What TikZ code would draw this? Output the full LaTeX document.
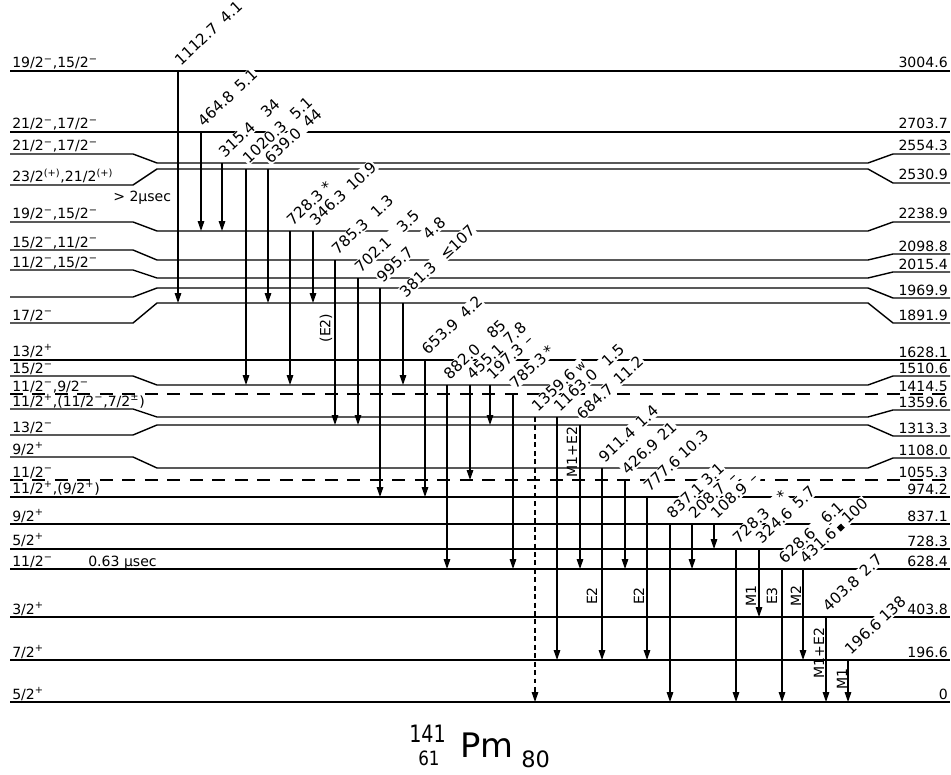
\documentclass[tikz,border=0pt]{standalone}
\usepackage{fontspec}
\setmainfont{DejaVu Sans}
\usepackage{graphicx}
\usetikzlibrary{arrows.meta}
\newcommand\sM{\textsuperscript{−}}
\newcommand\sP{\textsuperscript{+}}
\newcommand\lblfont{\fontsize{10}{12}\selectfont}
\newcommand\trfont{\fontsize{10.8}{12}\selectfont}
\tikzset{
  lev/.style={line width=1pt},
  levdash/.style={line width=1pt, dash pattern=on 9pt off 7pt},
  tr/.style={line width=0.85pt, -{Triangle[length=7pt,width=4.6pt]}},
  trdash/.style={tr, dash pattern=on 3.5pt off 2.5pt},
  elab/.style={rotate=43, anchor=south west, inner sep=0.6pt,
    text height=8pt, text depth=0.3pt, font=\trfont},
  ebox/.style={elab, fill=white},
  spin/.style={anchor=base west, inner sep=0pt, font=\lblfont},
  enlab/.style={anchor=base east, inner sep=0pt, font=\lblfont},
  mult/.style={rotate=90, inner sep=0.5pt, font=\lblfont},
}
\newcommand\lev[4][lev]{\draw[#1] (10,#2) -- (133,#2) -- (157,#3) -- (868,#3) -- (893,#4) -- (950,#4);}
\newcommand\trlist{%
\tra{t01}{178}{71}{303}{tr}{1112.7\hspace{6pt}4.1}
\tra{t02}{201}{132}{231}{tr}{464.8\hspace{5pt}5.1}
\tra{t03}{222}{163}{231}{tr}{315.4\hspace{10pt}34}
\tra{t04}{246}{169}{385}{tr}{1020.3\hspace{8pt}5.1}
\tra{t05}{268}{169}{303}{tr}{639.0\hspace{6pt}44}
\tra{t06}{290}{231}{385}{tr}{728.3\hspace{3pt}*}
\tra{t07}{313}{231}{303}{tr}{346.3\hspace{5pt}10.9}
\tra{t08}{335}{260}{425}{tr}{785.3\hspace{7pt}1.3}
\tra{t09}{358}{278}{425}{tr}{702.1\hspace{10pt}3.5}
\tra{t10}{380}{288}{497}{tr}{995.7\hspace{14pt}4.8}
\tra{t11}{403}{303}{385}{tr}{381.3\hspace{8pt}≤107}
\tra{t12}{425}{360}{497}{tr}{653.9\hspace{6pt}4.2}
\tra{t13}{447}{385}{569}{tr}{882.0\hspace{11pt}85}
\tra{t14}{470}{385}{480}{tr}{455.1\hspace{5pt}7.8}
\tra{t15}{490}{385}{425}{tr}{197.3\hspace{4pt}–}
\tra{t16}{513}{394}{569}{tr}{785.3\hspace{2pt}*}
\tra{t17}{535}{417}{702}{trdash}{1359.6\hspace{3pt}{\footnotesize w}}
\tra{t18}{557}{417}{660}{tr}{1163.0\hspace{9pt}1.5}
\tra{t19}{580}{425}{569}{tr}{684.7\hspace{5pt}11.2}
\tra{t20}{602}{468}{660}{tr}{911.4\hspace{5pt}1.4}
\tra{t21}{625}{480}{569}{tr}{426.9\hspace{4pt}21}
\tra{t22}{647}{497}{660}{tr}{777.6\hspace{3pt}10.3}
\tra{t23}{670}{524}{702}{tr}{837.1\hspace{3pt}3.1}
\tra{t24}{692}{524}{569}{tr}{208.7\hspace{6pt}–}
\tra{t25}{714}{524}{549}{tr}{108.9\hspace{5pt}–}
\tra{t26}{736}{549}{702}{tr}{728.3\hspace{12pt}*}
\tra{t27}{759}{549}{617}{tr}{324.6\hspace{5pt}5.7}
\tra{t28}{782}{569}{702}{tr}{628.6\hspace{10pt}6.1}
\tra{t29}{803}{569}{660}{tr}{431.6\hspace{3pt}\rule{4pt}{4pt}\hspace{3pt}100}
\tra{t30}{826}{617}{702}{tr}{403.8\hspace{5pt}2.7}
\tra{t31}{848}{660}{702}{tr}{196.6\hspace{3pt}138}
}
\begin{document}
\begin{tikzpicture}[x=0.025cm, y=-0.025cm]
\useasboundingbox (0,0) rectangle (951,774);
% levels
\lev{71}{71}{71}
\lev{132}{132}{132}
\lev{154}{163}{154}
\lev{185}{169}{183}
\lev{222}{231}{222}
\lev{250}{260}{254}
\lev{270}{278}{272}
\lev{297}{288}{298}
\lev{323}{303}{323}
\lev{360}{360}{360}
\lev{376}{385}{376}
\lev[levdash]{394}{394}{394}
\lev{409}{417}{410}
\lev{435}{425}{436}
\lev{457}{468}{458}
\lev[levdash]{480}{480}{480}
\lev{497}{497}{497}
\lev{524}{524}{524}
\lev{549}{549}{549}
\lev{569}{569}{569}
\lev{617}{617}{617}
\lev{660}{660}{660}
\lev{702}{702}{702}
% spin labels
\node[spin] (s1) at (12,68) {19/2\sM,15/2\sM};
\node[spin] (s2) at (12,129) {21/2\sM,17/2\sM};
\node[spin] (s3) at (12,151) {21/2\sM,17/2\sM};
\node[spin] (s4) at (12,182) {23/2\textsuperscript{(+)},21/2\textsuperscript{(+)}};
\node[spin] (s5) at (12,219) {19/2\sM,15/2\sM};
\node[spin] (s6) at (12,247) {15/2\sM,11/2\sM};
\node[spin] (s7) at (12,267) {11/2\sM,15/2\sM};
\node[spin] (s8) at (12,320) {17/2\sM};
\node[spin] (s9) at (12,356) {13/2\sP};
\node[spin] (s10) at (12,373) {15/2\sM};
\node[spin] (s11) at (12,391) {11/2\sM,9/2\sM};
\node[spin] (s12) at (12,406) {11/2\sP,(11/2\sM,7/2\textsuperscript{±})};
\node[spin] (s13) at (12,432) {13/2\sM};
\node[spin] (s14) at (12,454) {9/2\sP};
\node[spin] (s15) at (12,477) {11/2\sM};
\node[spin] (s16) at (12,493) {11/2\sP,(9/2\sP)};
\node[spin] (s17) at (12,521) {9/2\sP};
\node[spin] (s18) at (12,545) {5/2\sP};
\node[spin] (s19) at (12,566) {11/2\sM};
\node[spin] (s20) at (12,614) {3/2\sP};
\node[spin] (s21) at (12,657) {7/2\sP};
\node[spin] (s22) at (12,699) {5/2\sP};
\node[spin] (life1) at (113,202) {> 2μsec};
\node[spin] (life2) at (88,566) {0.63 μsec};
% energy labels
\node[enlab] (e1) at (948,68) {3004.6};
\node[enlab] (e2) at (948,129) {2703.7};
\node[enlab] (e3) at (948,151) {2554.3};
\node[enlab] (e4) at (948,180) {2530.9};
\node[enlab] (e5) at (948,219) {2238.9};
\node[enlab] (e6) at (948,251) {2098.8};
\node[enlab] (e7) at (948,269) {2015.4};
\node[enlab] (e8) at (948,295) {1969.9};
\node[enlab] (e9) at (948,320) {1891.9};
\node[enlab] (e10) at (948,357) {1628.1};
\node[enlab] (e11) at (948,373) {1510.6};
\node[enlab] (e12) at (948,391) {1414.5};
\node[enlab] (e13) at (948,407) {1359.6};
\node[enlab] (e14) at (948,433) {1313.3};
\node[enlab] (e15) at (948,455) {1108.0};
\node[enlab] (e16) at (948,477) {1055.3};
\node[enlab] (e17) at (948,494) {974.2};
\node[enlab] (e18) at (948,521) {837.1};
\node[enlab] (e19) at (948,546) {728.3};
\node[enlab] (e20) at (948,566) {628.4};
\node[enlab] (e21) at (948,614) {403.8};
\node[enlab] (e22) at (948,657) {196.6};
\node[enlab] (e23) at (948,699) {0};
% transitions: pass 1 lines, pass 2 white gaps, pass 3 texts
\def\tra#1#2#3#4#5#6{\coordinate (#1a) at (#2,#3); \coordinate (#1b) at (#2,#4); \draw[#5] (#1a) -- (#1b);}
\trlist
\def\tra#1#2#3#4#5#6{\node[ebox] (#1w) at (#2+3,#3-3) {\phantom{#6}};}
\trlist
\def\tra#1#2#3#4#5#6{\node[elab] (#1l) at (#2+3,#3-3) {#6};}
\trlist
% multipolarities
\node[mult] (m1) at (326,328) {(E2)};
\node[mult] (m2) at (572,452) {M1+E2};
\node[mult] (m3) at (592,596) {E2};
\node[mult] (m4) at (639,596) {E2};
\node[mult] (m5) at (751,596) {M1};
\node[mult] (m6) at (772,596) {E3};
\node[mult] (m7) at (796,596) {M2};
\node[mult] (m8) at (819,653) {M1+E2};
\node[mult] (m9) at (842,679) {M1};
% nucleus
\node[anchor=base west, inner sep=0pt, font=\fontsize{17}{17}\selectfont] (A) at (409,742) {\scalebox{0.8}[1]{141}};
\node[anchor=base west, inner sep=0pt, font=\fontsize{14}{14}\selectfont] (Z) at (418,765) {\scalebox{0.85}[1]{61}};
\node[anchor=base west, inner sep=0pt, font=\fontsize{24}{24}\selectfont] (Pm) at (460,757) {Pm};
\node[anchor=base west, inner sep=0pt, font=\fontsize{16}{16}\selectfont] (N) at (521,767) {80};
\end{tikzpicture}
\end{document}
